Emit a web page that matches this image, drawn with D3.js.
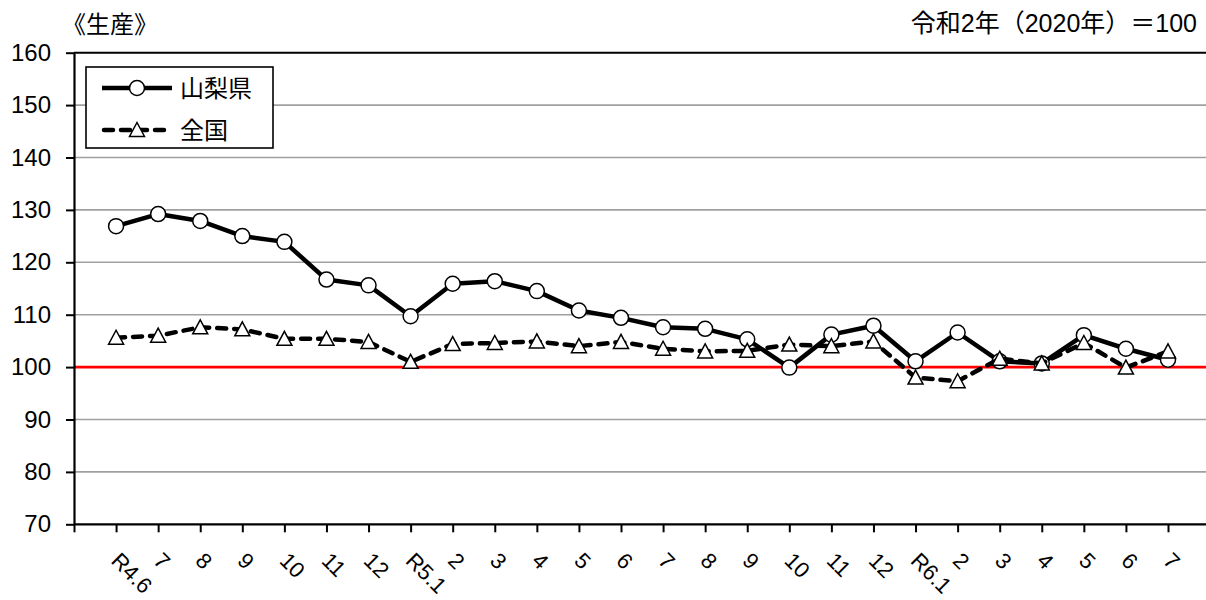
<!DOCTYPE html>
<html>
<head>
<meta charset="utf-8">
<script src="https://cdn.jsdelivr.net/npm/d3@7"></script>
<style>
  body { margin: 0; background: #fff; }
  text { font-family: "Liberation Sans", "Noto Sans CJK JP", sans-serif; fill: #000; }
</style>
</head>
<body>
<svg id="chart"></svg>
<script>
// production index, Yamanashi vs national (R2 = 100)

const categories = ["R4.6","7","8","9","10","11","12",
  "R5.1","2","3","4","5","6","7","8","9","10","11","12",
  "R6.1","2","3","4","5","6","7"];
const yamanashi = [126.9,129.2,127.9,125.0,123.9,116.7,115.6,
  109.7,115.9,116.4,114.5,110.8,109.4,107.6,107.3,105.3,99.9,106.2,107.9,
  101.1,106.6,101.1,100.7,106.1,103.5,101.4];
const zenkoku = [105.6,106.0,107.6,107.2,105.4,105.4,104.8,
  101.0,104.4,104.6,104.9,104.0,104.8,103.5,103.0,103.1,104.3,104.0,104.9,
  98.0,97.3,101.6,100.7,104.6,99.9,103.0];
const yTicks = [70,80,90,100,110,120,130,140,150,160];
const seriesNames = ["山梨県", "全国"];

// window
let win = {w: 1206, h: 600};
const svg = d3.select("#chart")
  .attr("width", win.w)
  .attr("height", win.h);

let plot = {left: 74, right: 1206, top: 52.7, bottom: 524.3};

// scales: index -1 is the axis origin, points sit on the ticks
let x = d3.scaleLinear().domain([-1, categories.length - 1]).range([plot.left, 1168]);
let y = d3.scaleLinear().domain([70, 160]).range([plot.bottom, plot.top]);

// gridlines
svg.append("g")
  .selectAll("line")
  .data(yTicks.filter(d => d > 70 && d < 160 && d !== 100))
  .enter()
  .append("line")
  .attr("x1", plot.left).attr("x2", plot.right)
  .attr("y1", d => y(d)).attr("y2", d => y(d))
  .attr("stroke", "#a0a0a0")
  .attr("stroke-width", 1.6)

// top border
svg.append("line")
  .attr("x1", plot.left).attr("x2", plot.right)
  .attr("y1", y(160)).attr("y2", y(160))
  .attr("stroke", "#000")
  .attr("stroke-width", 2)

// red reference line at 100
svg.append("line")
  .attr("x1", plot.left).attr("x2", plot.right)
  .attr("y1", y(100)).attr("y2", y(100))
  .attr("stroke", "#ff0000")
  .attr("stroke-width", 2.8)

// y axis
const yAxis = svg.append("g")
  .attr("transform", `translate(${plot.left},0)`)
  .call(d3.axisLeft(y).tickValues(yTicks).tickSize(8).tickPadding(15).tickSizeOuter(0))
yAxis.select(".domain").attr("stroke", "#000").attr("stroke-width", 2.2)
yAxis.selectAll(".tick line").attr("stroke", "#000").attr("stroke-width", 2)
yAxis.selectAll(".tick text")
  .attr("font-size", 24)
  .attr("font-family", "Liberation Sans, Noto Sans CJK JP, sans-serif")
  .attr("fill", "#000")

// x axis
const xTickIdx = d3.range(-1, categories.length);
const xAxis = svg.append("g")
  .attr("transform", `translate(0,${plot.bottom})`)
  .call(d3.axisBottom(x).tickValues(xTickIdx).tickSize(8).tickFormat("").tickSizeOuter(0))
xAxis.select(".domain").attr("stroke", "#000").attr("stroke-width", 2.2)
  .attr("d", `M${plot.left},0H${plot.right}`)
xAxis.selectAll(".tick line").attr("stroke", "#000").attr("stroke-width", 2)

// rotated category labels
svg.append("g")
  .selectAll("text")
  .data(categories)
  .enter()
  .append("text")
  .attr("transform", (d, i) => `translate(${x(i) - 6},562) rotate(45)`)
  .attr("font-size", 22)
  .attr("text-anchor", "start")
  .text(d => d)

// lines
let line = d3.line().x((d, i) => x(i)).y(d => y(d));

svg.append("path")
  .datum(yamanashi)
  .attr("d", line)
  .attr("fill", "none")
  .attr("stroke", "#000")
  .attr("stroke-width", 4.5)
  .attr("stroke-linejoin", "round")

svg.append("g")
  .selectAll("circle")
  .data(yamanashi)
  .enter()
  .append("circle")
  .attr("cx", (d, i) => x(i))
  .attr("cy", d => y(d))
  .attr("r", 7.5)
  .attr("fill", "#fff")
  .attr("stroke", "#000")
  .attr("stroke-width", 1.5)

svg.append("path")
  .datum(zenkoku)
  .attr("d", line)
  .attr("fill", "none")
  .attr("stroke", "#000")
  .attr("stroke-width", 4.5)
  .attr("stroke-dasharray", "9,8")
  .attr("stroke-linecap", "round")

let tri = "M0,-7.5L7.5,6.5L-7.5,6.5Z";
svg.append("g")
  .selectAll("path")
  .data(zenkoku)
  .enter()
  .append("path")
  .attr("d", tri)
  .attr("transform", (d, i) => `translate(${x(i)},${y(d)})`)
  .attr("fill", "#fff")
  .attr("stroke", "#000")
  .attr("stroke-width", 1.5)

// LEGEND
let lg = {x: 86, y: 67, w: 187, h: 81};
svg.append("rect")
  .attr("x", lg.x).attr("y", lg.y)
  .attr("width", lg.w).attr("height", lg.h)
  .attr("fill", "#fff")
  .attr("stroke", "#000")
  .attr("stroke-width", 1.6)

svg.append("line")
  .attr("x1", 102).attr("x2", 172).attr("y1", 88).attr("y2", 88)
  .attr("stroke", "#000").attr("stroke-width", 4.5)
svg.append("circle")
  .attr("cx", 137).attr("cy", 88).attr("r", 7.5)
  .attr("fill", "#fff").attr("stroke", "#000").attr("stroke-width", 1.5)

svg.append("line")
  .attr("x1", 104).attr("x2", 172).attr("y1", 130).attr("y2", 130)
  .attr("stroke", "#000").attr("stroke-width", 4.5)
  .attr("stroke-dasharray", "9,8").attr("stroke-linecap", "round")
svg.append("path")
  .attr("d", tri)
  .attr("transform", "translate(137,130)")
  .attr("fill", "#fff").attr("stroke", "#000").attr("stroke-width", 1.5)

svg.append("text")
  .attr("x", 180).attr("y", 88)
  .attr("dominant-baseline", "central")
  .attr("font-size", 24)
  .text(seriesNames[0])
svg.append("text")
  .attr("x", 180).attr("y", 130)
  .attr("dominant-baseline", "central")
  .attr("font-size", 24)
  .text(seriesNames[1])

// TITLE
svg.append("text")
  .attr("x", 62).attr("y", 24)
  .attr("dominant-baseline", "central")
  .attr("font-size", 24)
  .text("《生産》")

svg.append("text")
  .attr("x", 1197).attr("y", 23)
  .attr("dominant-baseline", "central")
  .attr("text-anchor", "end")
  .attr("font-size", 25)
  .text("令和2年（2020年）＝100")
</script>
</body>
</html>
